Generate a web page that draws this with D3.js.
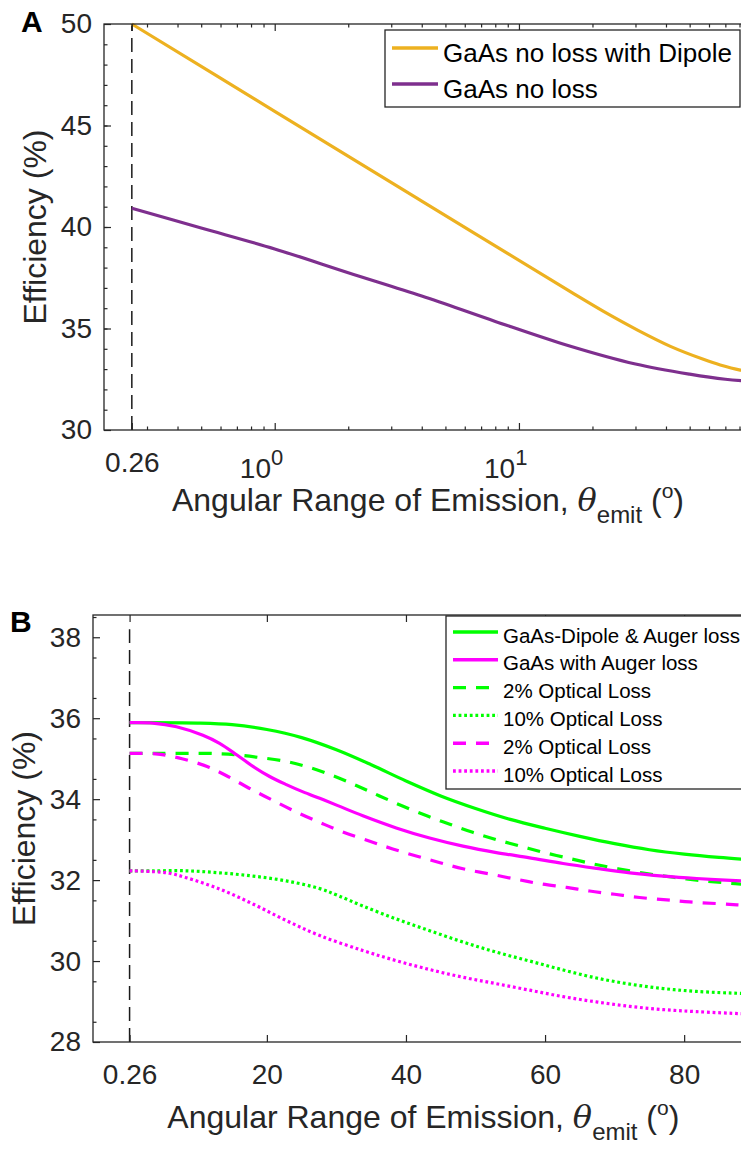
<!DOCTYPE html>
<html lang="en">
<head>
<meta charset="utf-8">
<title>efficiency vs angular range of emission</title>
<style>
body {
  margin: 0;
  background: #fff;
  overflow: hidden;
}
svg {
  display: block;
  font-family: "Liberation Sans", Arial, Helvetica, sans-serif;
}
.axis path { display: none; }
.axis line { stroke: #262626; stroke-width: 1.2; }
.axis text { fill: #262626; font-size: 28px; font-family: "Liberation Sans", Arial, sans-serif; }
.frame { fill: none; stroke: #262626; stroke-width: 1.3; }
.title { fill: #262626; font-size: 32px; }
.legend-box { fill: #fff; stroke: #262626; stroke-width: 1.3; }
</style>
<script src="https://cdn.jsdelivr.net/npm/d3@7"></script>
</head>
<body>
<svg id="chart" width="741" height="1149"></svg>
<script>

// ---- panel A (log x) ----
var thetaDipoleA = [0.26, 1, 4, 16.3, 22.2, 30.6, 41.7, 56.9, 66.7, 80.6, 90];
var effDipoleA   = [50.0, 45.7, 41.28, 36.8, 35.84, 34.92, 34.12, 33.48, 33.2, 32.95, 32.87];
var thetaNoLossA = [0.26, 0.5, 1, 2, 4, 8, 16, 30, 50, 70, 90];
var effNoLossA   = [40.92, 39.95, 38.92, 37.75, 36.6, 35.35, 34.15, 33.25, 32.75, 32.5, 32.4];
var xTicksA = [0.26, 1, 10];
var yTicksA = [30, 35, 40, 45, 50];
var legendA = ["GaAs no loss with Dipole", "GaAs no loss"];

// ---- panel B (linear x) ----
var thetaDipoleAuger = [0.26, 10, 15, 20, 25, 30, 35, 40, 45, 50, 55, 60, 65, 70, 75, 80, 85, 90];
var effDipoleAuger   = [35.89, 35.88, 35.84, 35.72, 35.52, 35.22, 34.85, 34.45, 34.08, 33.77, 33.5, 33.28, 33.08, 32.9, 32.75, 32.64, 32.56, 32.5];
var thetaAuger = [0.26, 3.6, 7.0, 10.8, 13.2, 15.7, 18, 20.4, 22.8, 25.2, 27.6, 30.2, 33.8, 38.6, 43.4, 48.2, 53, 57.8, 62.6, 67.4, 72.2, 77, 81.8, 88.2, 90];
var effAuger   = [35.89, 35.88, 35.79, 35.58, 35.38, 35.09, 34.81, 34.56, 34.36, 34.18, 34.02, 33.84, 33.59, 33.29, 33.04, 32.84, 32.68, 32.55, 32.41, 32.29, 32.18, 32.1, 32.04, 31.98, 31.97];
var thetaDipole2 = [0.26, 5, 11.8, 15.4, 18.9, 22.8, 26.2, 29.8, 33.1, 36.2, 39.5, 43, 46.3, 49.6, 53, 56.4, 59.7, 63.6, 66.9, 70.5, 74.6, 78.4, 81.8, 85.4, 90];
var effDipole2   = [35.13, 35.13, 35.13, 35.1, 35.03, 34.93, 34.78, 34.56, 34.32, 34.08, 33.83, 33.59, 33.38, 33.18, 33.0, 32.84, 32.69, 32.53, 32.4, 32.28, 32.16, 32.07, 32.0, 31.94, 31.88];
var thetaDipole10 = [0.26, 3.6, 8.4, 13.2, 18, 22.8, 27.6, 30.2, 33.8, 38.6, 43.4, 48.2, 53, 57.8, 62.6, 67.4, 72.2, 77, 81.8, 88.2, 90];
var effDipole10   = [32.23, 32.23, 32.23, 32.18, 32.1, 31.98, 31.79, 31.62, 31.36, 31.04, 30.75, 30.47, 30.22, 30.0, 29.78, 29.58, 29.43, 29.32, 29.25, 29.2, 29.19];
var thetaAuger2 = [0.26, 4, 7.8, 11.5, 14.4, 17.8, 21.1, 24.5, 27.8, 30.9, 34.8, 38.1, 41.6, 44.9, 48.2, 52.1, 55.9, 59.3, 63.1, 66.4, 70, 73.6, 77.5, 80.8, 84.7, 87.6, 90];
var effAuger2   = [35.13, 35.12, 35.0, 34.8, 34.56, 34.24, 33.95, 33.66, 33.41, 33.19, 32.96, 32.77, 32.59, 32.43, 32.28, 32.15, 32.02, 31.91, 31.82, 31.73, 31.65, 31.57, 31.51, 31.46, 31.42, 31.39, 31.37];
var thetaAuger10 = [0.26, 3.6, 6, 8.4, 13.2, 18, 22.8, 27.6, 33.8, 38.6, 43.4, 48.2, 53, 57.8, 62.6, 67.4, 72.2, 77, 81.8, 88.2, 90];
var effAuger10   = [32.23, 32.21, 32.17, 32.06, 31.78, 31.41, 31.0, 30.63, 30.26, 30.01, 29.79, 29.6, 29.44, 29.28, 29.12, 28.99, 28.88, 28.8, 28.75, 28.7, 28.69];
var xTicksB = [0.26, 20, 40, 60, 80];
var yTicksB = [28, 30, 32, 34, 36, 38];
var legendB = ["GaAs-Dipole & Auger loss", "GaAs with Auger loss", "2% Optical Loss", "10% Optical Loss", "2% Optical Loss", "10% Optical Loss"];

var thetaMark = 0.26;

function zipSeries(xs, ys) {
  return xs.map(function(v, i) { return [v, ys[i]]; });
}

var svg = d3.select("#chart");

// ================= panel A =================
var xA = d3.scaleLog().domain([0.2, 90]).range([104, 752]);
var yA = d3.scaleLinear().domain([30, 50]).range([430, 24]);

var gA = svg.append("g");

var lineA = d3.line()
  .x(function(d) { return xA(d[0]); })
  .y(function(d) { return yA(d[1]); })
  .curve(d3.curveCatmullRom.alpha(0.5));

// dashed marker at 0.26
gA.append("line")
  .attr("x1", xA(thetaMark)).attr("x2", xA(thetaMark))
  .attr("y1", yA(30)).attr("y2", yA(50))
  .attr("stroke", "#1a1a1a").attr("stroke-width", 1.5)
  .attr("stroke-dasharray", "14,7");

var seriesA = [
  {data: zipSeries(thetaDipoleA, effDipoleA), color: "#EDB120"},
  {data: zipSeries(thetaNoLossA, effNoLossA), color: "#7E2F8E"}
];

gA.selectAll(".curveA")
  .data(seriesA)
  .enter().append("path")
  .attr("class", "curveA")
  .attr("d", function(d) { return lineA(d.data); })
  .attr("fill", "none")
  .attr("stroke", function(d) { return d.color; })
  .attr("stroke-width", 3.2);

// minor log ticks
var minorA = xA.ticks().filter(function(v) { return xTicksA.indexOf(v) < 0 && v > 0.2; });

gA.append("g").attr("class", "axis")
  .attr("transform", "translate(0,430)")
  .call(d3.axisBottom(xA).tickValues(minorA).tickSize(-3.5).tickFormat(""));
gA.append("g").attr("class", "axis")
  .attr("transform", "translate(0,24)")
  .call(d3.axisTop(xA).tickValues(minorA).tickSize(-3.5).tickFormat(""));
gA.append("g").attr("class", "axis")
  .attr("transform", "translate(0,24)")
  .call(d3.axisTop(xA).tickValues(xTicksA).tickSize(-7).tickFormat(""));

var bottomA = gA.append("g").attr("class", "axis")
  .attr("transform", "translate(0,430)")
  .call(d3.axisBottom(xA).tickValues(xTicksA).tickSize(-7).tickPadding(22)
    .tickFormat(function(d) { return d < 1 ? d3.format(".2f")(d) : "10"; }));

// powers of ten get a superscript
bottomA.selectAll(".tick text").each(function(d) {
  if (d >= 1) {
    var t = d3.select(this).attr("dy", "0.92em").attr("text-anchor", "end").attr("x", 8);
    t.append("tspan").attr("dy", -13).attr("font-size", "22px").text(Math.round(Math.log10(d)));
  }
});

gA.append("g").attr("class", "axis")
  .attr("transform", "translate(104,0)")
  .call(d3.axisLeft(yA).tickValues(d3.range(31, 50, 1)).tickSize(-3.5).tickFormat(""));
gA.append("g").attr("class", "axis")
  .attr("transform", "translate(104,0)")
  .call(d3.axisLeft(yA).tickValues(yTicksA).tickSize(-7).tickPadding(12));

gA.append("rect").attr("class", "frame")
  .attr("x", 104).attr("y", 24).attr("width", 752 - 104).attr("height", 430 - 24);

// legend A
var legA = gA.append("g");
legA.append("rect").attr("class", "legend-box")
  .attr("x", 385).attr("y", 30).attr("width", 355).attr("height", 77);
var legRowsA = legA.selectAll(".row")
  .data(seriesA)
  .enter().append("g")
  .attr("transform", function(d, i) { return "translate(0," + (48 + i * 36) + ")"; });
legRowsA.append("line")
  .attr("x1", 392).attr("x2", 438)
  .attr("stroke", function(d) { return d.color; })
  .attr("stroke-width", 3.6);
legRowsA.append("text")
  .attr("x", 443).attr("y", 13.5)
  .attr("font-size", "26px").attr("fill", "#000")
  .text(function(d, i) { return legendA[i]; });

// ================= panel B =================
var xB = d3.scaleLinear().domain([-5, 90]).range([93, 753.7]);
var yB = d3.scaleLinear().domain([28, 38.55]).range([1042, 615]);

var gB = svg.append("g");

var lineB = d3.line()
  .x(function(d) { return xB(d[0]); })
  .y(function(d) { return yB(d[1]); })
  .curve(d3.curveCatmullRom.alpha(0.5));

gB.append("line")
  .attr("x1", xB(thetaMark)).attr("x2", xB(thetaMark))
  .attr("y1", yB(28)).attr("y2", yB(38.2))
  .attr("stroke", "#1a1a1a").attr("stroke-width", 1.5)
  .attr("stroke-dasharray", "14,7");

var seriesB = [
  {data: zipSeries(thetaDipoleAuger, effDipoleAuger), color: "#00FF00", dash: null},
  {data: zipSeries(thetaAuger, effAuger), color: "#FF00FF", dash: null},
  {data: zipSeries(thetaDipole2, effDipole2), color: "#00FF00", dash: "13,10"},
  {data: zipSeries(thetaDipole10, effDipole10), color: "#00FF00", dash: "2.8,2.8"},
  {data: zipSeries(thetaAuger2, effAuger2), color: "#FF00FF", dash: "13,10"},
  {data: zipSeries(thetaAuger10, effAuger10), color: "#FF00FF", dash: "2.8,2.8"}
];

// draw dashed/dotted first, solid on top
var drawOrder = [3, 5, 2, 4, 0, 1];
gB.selectAll(".curveB")
  .data(drawOrder.map(function(i) { return seriesB[i]; }))
  .enter().append("path")
  .attr("class", "curveB")
  .attr("d", function(d) { return lineB(d.data); })
  .attr("fill", "none")
  .attr("stroke", function(d) { return d.color; })
  .attr("stroke-width", 3.2)
  .attr("stroke-dasharray", function(d) { return d.dash; });

gB.append("g").attr("class", "axis")
  .attr("transform", "translate(0,1042)")
  .call(d3.axisBottom(xB).tickValues(xTicksB).tickSize(-7).tickPadding(22)
    .tickFormat(function(d) { return d < 1 ? d3.format(".2f")(d) : d; }));
gB.append("g").attr("class", "axis")
  .attr("transform", "translate(0,615)")
  .call(d3.axisTop(xB).tickValues(xTicksB).tickSize(-7).tickFormat(""));

gB.append("g").attr("class", "axis")
  .attr("transform", "translate(93,0)")
  .call(d3.axisLeft(yB).tickValues(d3.range(28.5, 38.6, 1)).tickSize(-3.5).tickFormat(""));
gB.append("g").attr("class", "axis")
  .attr("transform", "translate(93,0)")
  .call(d3.axisLeft(yB).tickValues(yTicksB).tickSize(-7).tickPadding(12));

gB.append("rect").attr("class", "frame")
  .attr("x", 93).attr("y", 615).attr("width", 753.7 - 93).attr("height", 1042 - 615);

// legend B
var legB = gB.append("g");
legB.append("rect").attr("class", "legend-box")
  .attr("x", 446).attr("y", 616).attr("width", 320).attr("height", 173);
var legRowsB = legB.selectAll(".row")
  .data(seriesB)
  .enter().append("g")
  .attr("transform", function(d, i) { return "translate(0," + (632 + i * 27.8) + ")"; });
legRowsB.append("line")
  .attr("x1", 453).attr("x2", 498)
  .attr("stroke", function(d) { return d.color; })
  .attr("stroke-width", 3.4)
  .attr("stroke-dasharray", function(d) { return d.dash; });
legRowsB.append("text")
  .attr("x", 503).attr("y", 10.5)
  .attr("font-size", "20.5px").attr("fill", "#000")
  .text(function(d, i) { return legendB[i]; });

// ================= titles =================
function xTitle(x, y) {
  var t = svg.append("text").attr("class", "title")
    .attr("x", x).attr("y", y).attr("text-anchor", "middle");
  t.append("tspan").text("Angular Range of Emission, ");
  t.append("tspan").attr("font-style", "italic").attr("font-family", "\"DejaVu Serif\", \"Times New Roman\", serif").text("\u03b8");
  t.append("tspan").attr("font-size", "24px").attr("dy", 12).text("emit");
  t.append("tspan").attr("dy", -12).text(" (");
  t.append("tspan").attr("font-size", "21px").attr("dy", -13).text("o");
  t.append("tspan").attr("dy", 13).text(")");
}
function yTitle(x, y) {
  svg.append("text").attr("class", "title")
    .attr("transform", "translate(" + x + "," + y + ") rotate(-90)")
    .attr("text-anchor", "middle")
    .text("Efficiency (%)");
}

xTitle((104 + 752) / 2, 511);
yTitle(46, (24 + 430) / 2);
xTitle((93 + 753.7) / 2, 1128);
yTitle(35, (615 + 1042) / 2);

svg.append("text").attr("x", 21).attr("y", 32)
  .attr("font-size", "30px").attr("font-weight", "bold").attr("fill", "#000").text("A");
svg.append("text").attr("x", 10).attr("y", 632)
  .attr("font-size", "30px").attr("font-weight", "bold").attr("fill", "#000").text("B");

</script>
</body>
</html>
